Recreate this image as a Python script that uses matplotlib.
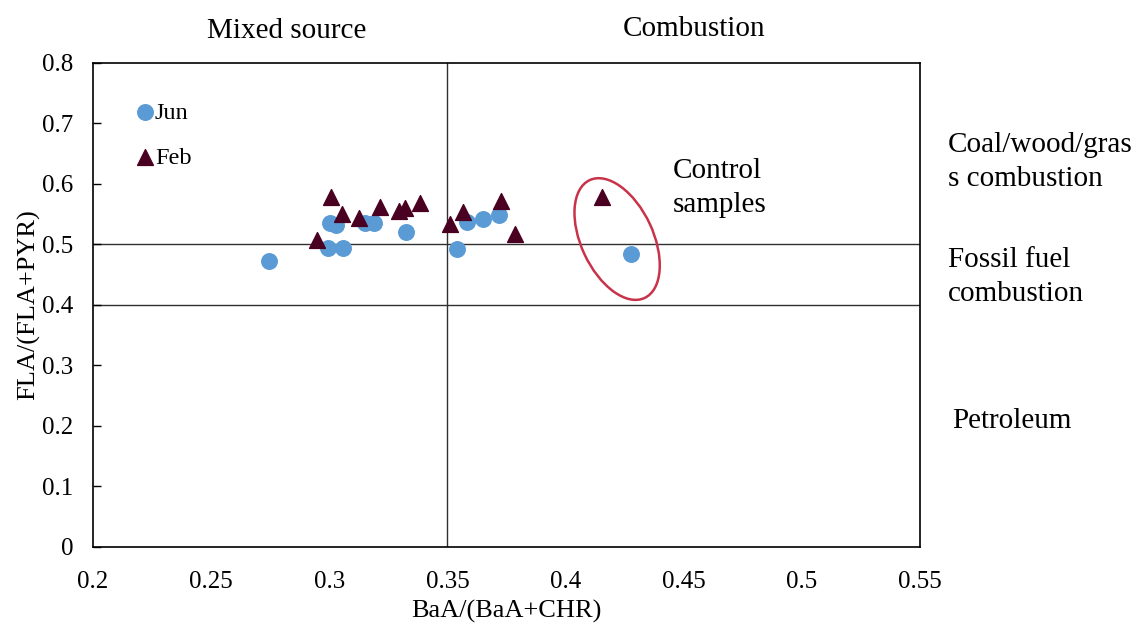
import matplotlib
matplotlib.use("Agg")
import matplotlib.pyplot as plt
import matplotlib.transforms as mtransforms
from matplotlib.patches import Ellipse

plt.rcParams['font.family'] = ['Liberation Serif', 'DejaVu Serif']

# BaA/(BaA+CHR) vs FLA/(FLA+PYR)
jun_x = [0.2745, 0.3003, 0.3028, 0.2993, 0.3058, 0.3151, 0.3188, 0.3325,
         0.3539, 0.3583, 0.3649, 0.3718, 0.4277]
jun_y = [0.473, 0.535, 0.532, 0.495, 0.495, 0.536, 0.536, 0.521,
         0.493, 0.537, 0.542, 0.548, 0.484]

feb_x = [0.3007, 0.3052, 0.2947, 0.3127, 0.3216, 0.3295, 0.3322, 0.3384,
         0.3509, 0.3564, 0.3728, 0.3786, 0.4153]
feb_y = [0.578, 0.550, 0.507, 0.543, 0.5615, 0.555, 0.561, 0.569,
         0.534, 0.553, 0.572, 0.518, 0.579]

x_ticks = [0.2, 0.25, 0.3, 0.35, 0.4, 0.45, 0.5, 0.55]
x_tick_labels = ["0.2", "0.25", "0.3", "0.35", "0.4", "0.45", "0.5", "0.55"]
y_ticks = [0, 0.1, 0.2, 0.3, 0.4, 0.5, 0.6, 0.7, 0.8]
y_tick_labels = ["0", "0.1", "0.2", "0.3", "0.4", "0.5", "0.6", "0.7", "0.8"]

fig = plt.figure(figsize=(11.36, 6.26), dpi=100)
ax = fig.add_axes([0.0819, 0.1262, 0.7280, 0.7732])

ax.set_xlim(0.2, 0.55)
ax.set_ylim(0, 0.8)

# source boundaries
line_kw = dict(color='#303030', lw=1.0, zorder=1)
ax.axvline(0.35, **line_kw)
ax.axhline(0.5, **line_kw)
ax.axhline(0.4, **line_kw)

ax.scatter(jun_x, jun_y, s=125, marker='o', color='#5B9BD5', zorder=3, label='Jun')
ax.scatter(feb_x, feb_y, s=130, marker='^', color='#4A0020', zorder=4, label='Feb')

ax.set_xticks(x_ticks)
ax.set_xticklabels(x_tick_labels)
ax.set_yticks(y_ticks)
ax.set_yticklabels(y_tick_labels)
ax.tick_params(axis='both', direction='in', length=6, width=1, labelsize=18)
ax.tick_params(axis='x', length=0, pad=17)
ax.tick_params(axis='y', pad=14)
for sp in ax.spines.values():
    sp.set_linewidth(1.2)
    sp.set_color('black')

ax.set_xlabel('BaA/(BaA+CHR)', fontsize=19, labelpad=5)
ax.set_ylabel('FLA/(FLA+PYR)', fontsize=19, labelpad=1.5)

leg = ax.legend(loc='upper left', bbox_to_anchor=(0.022, 0.94), frameon=False,
                fontsize=17.5, handletextpad=-0.6, labelspacing=0.95, borderaxespad=0)

# ring around the control samples
ring_tr = fig.dpi_scale_trans + mtransforms.ScaledTranslation(0.4218, 0.509, ax.transData)
ax.add_patch(Ellipse((0, 0), 0.72, 1.30, angle=25, fill=False, edgecolor='#C8334A',
                     lw=1.8, transform=ring_tr, zorder=5))

ax.text(0.4455, 0.594, 'Control\nsamples', fontsize=21, ha='left', va='center',
        linespacing=1.4)

fig.text(287 / 1136, 1 - 31 / 626, 'Mixed source', fontsize=21, ha='center', va='center')
fig.text(694 / 1136, 1 - 29 / 626, 'Combustion', fontsize=21, ha='center', va='center')
fig.text(948 / 1136, 1 - 162 / 626, 'Coal/wood/gras\ns combustion', fontsize=21,
         ha='left', va='center', linespacing=1.4)
fig.text(948 / 1136, 1 - 277 / 626, 'Fossil fuel\ncombustion', fontsize=21,
         ha='left', va='center', linespacing=1.4)
fig.text(952 / 1136, 1 - 421 / 626, 'Petroleum', fontsize=21, ha='left', va='center')

fig.savefig('out.png', dpi=100)
